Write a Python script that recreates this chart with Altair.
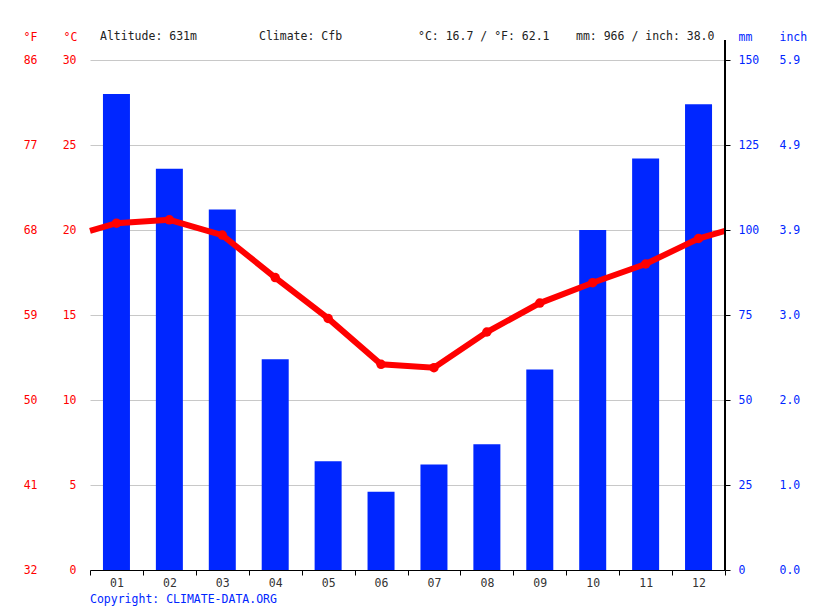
import altair as alt
import pandas as pd

months = ["01", "02", "03", "04", "05", "06", "07", "08", "09", "10", "11", "12"]
precip_mm = [140, 118, 106, 62, 32, 23, 31, 37, 59, 100, 121, 137]
temp_c = [20.4, 20.6, 19.7, 17.2, 14.8, 12.1, 11.9, 14.0, 15.7, 16.9, 18.0, 19.5]
header_texts = ["Altitude: 631m", "Climate: Cfb", "°C: 16.7 / °F: 62.1", "mm: 966 / inch: 38.0"]
header_x = [10, 169, 328, 486]

FONT = "DejaVu Sans Mono"
FS = 11.5
RED = "#ff0000"
BLUE = "#0026ff"
W, H = 635, 510

df = pd.DataFrame({"m": list(range(1, 13)), "label": months, "mm": precip_mm, "t": temp_c})
edge = (temp_c[0] + temp_c[-1]) / 2
line_df = pd.DataFrame({
    "m": [0.5] + list(range(1, 13)) + [12.5],
    "t": [edge] + temp_c + [edge],
})
ticks_df = pd.DataFrame({"m": [i + 0.5 for i in range(0, 13)], "mm": [0] * 13})

xscale = alt.Scale(domain=[0.5, 12.5], nice=False, zero=False, padding=0)
mm_scale = alt.Scale(domain=[0, 150], nice=False)
t_scale = alt.Scale(domain=[0, 30], nice=False)

label_expr_month = "datum.value < 10 ? '0' + datum.value : '' + datum.value"

f_axis = alt.Chart(df).mark_point(opacity=0).encode(
    x=alt.X("m:Q", scale=xscale, axis=None),
    y=alt.Y("t:Q", scale=t_scale,
            axis=alt.Axis(orient="left", values=[0, 5, 10, 15, 20, 25, 30],
                          labelExpr="format(datum.value * 9 / 5 + 32, 'd')",
                          grid=True, gridColor="#c8c8c8", gridWidth=1,
                          domain=False, ticks=False,
                          labelColor=RED, labelFont=FONT, labelFontSize=FS,
                          labelPadding=53, title="°F", titleAngle=0, titleColor=RED,
                          titleFont=FONT, titleFontSize=FS, titleFontWeight="normal",
                          titleAlign="center", titleBaseline="alphabetic",
                          titleX=-60, titleY=-20)),
)

bars = alt.Chart(df).mark_bar(color=BLUE, size=27).encode(
    x=alt.X("m:Q", scale=xscale,
            axis=alt.Axis(orient="bottom", values=list(range(1, 13)), labelExpr=label_expr_month,
                          ticks=False, domain=False, grid=False, title=None,
                          labelFont=FONT, labelFontSize=FS, labelColor="#333333",
                          labelPadding=7)),
    y=alt.Y("mm:Q", scale=mm_scale,
            axis=alt.Axis(orient="right", values=[0, 25, 50, 75, 100, 125, 150],
                          grid=False, domain=False, tickColor="#000000", tickSize=5,
                          labelColor=BLUE, labelFont=FONT, labelFontSize=FS,
                          labelPadding=8, title="mm", titleAngle=0, titleColor=BLUE,
                          titleFont=FONT, titleFontSize=FS, titleFontWeight="normal",
                          titleAlign="left", titleBaseline="alphabetic",
                          titleX=13, titleY=-20)),
)

inch_axis = alt.Chart(ticks_df).mark_point(opacity=0).encode(
    x=alt.X("m:Q", scale=xscale,
            axis=alt.Axis(orient="bottom", values=[i + 0.5 for i in range(0, 13)], labels=False,
                          ticks=True, tickSize=5, tickColor="#000000",
                          domain=True, domainColor="#000000", grid=False, title=None)),
    y=alt.Y("mm:Q", scale=mm_scale,
            axis=alt.Axis(orient="right", values=[0, 25, 50, 75, 100, 125, 150],
                          labelExpr="format(datum.value / 25.4, '.1f')",
                          grid=False, domain=False, ticks=False,
                          labelColor=BLUE, labelFont=FONT, labelFontSize=FS,
                          labelPadding=54, title="inch", titleAngle=0, titleColor=BLUE,
                          titleFont=FONT, titleFontSize=FS, titleFontWeight="normal",
                          titleAlign="left", titleBaseline="alphabetic",
                          titleX=54, titleY=-20)),
)

line = alt.Chart(line_df).mark_line(color=RED, strokeWidth=6).encode(
    x=alt.X("m:Q", scale=xscale, axis=None),
    y=alt.Y("t:Q", scale=t_scale,
            axis=alt.Axis(orient="left", values=[0, 5, 10, 15, 20, 25, 30],
                          grid=False, domain=False, ticks=False,
                          labelColor=RED, labelFont=FONT, labelFontSize=FS,
                          labelPadding=14, title="°C", titleAngle=0, titleColor=RED,
                          titleFont=FONT, titleFontSize=FS, titleFontWeight="normal",
                          titleAlign="center", titleBaseline="alphabetic",
                          titleX=-20, titleY=-20)),
)

points = alt.Chart(df).mark_circle(color=RED, size=90, opacity=1).encode(
    x=alt.X("m:Q", scale=xscale, axis=None),
    y=alt.Y("t:Q", scale=t_scale, axis=None),
)

right_rule = alt.Chart(df).mark_rule(color="#000000", strokeWidth=1).encode(
    x=alt.value(W), y=alt.value(-20), y2=alt.value(H)
)

hdr_df = pd.DataFrame({"txt": header_texts, "px": header_x})
header = alt.Chart(hdr_df).mark_text(
    font=FONT, fontSize=FS, color="#222222", align="left", baseline="alphabetic"
).encode(text="txt:N", x=alt.X("px:Q", scale=None), y=alt.value(-20))

copyright = alt.Chart(pd.DataFrame({"txt": ["Copyright: CLIMATE-DATA.ORG"]})).mark_text(
    font=FONT, fontSize=FS, color=BLUE, align="left", baseline="alphabetic"
).encode(text="txt:N", x=alt.value(0), y=alt.value(H + 33))

chart = alt.layer(
    f_axis, bars, inch_axis, line, points, right_rule, header, copyright
).resolve_scale(y="independent", x="shared").resolve_axis(
    y="independent", x="independent"
).properties(
    width=W, height=H,
    autosize=alt.AutoSizeParams(type="none"),
    padding={"left": 90, "top": 60, "right": 90, "bottom": 41},
).configure_view(stroke=None)

chart.save("out.html", embed_options={"renderer": "svg", "actions": False})
